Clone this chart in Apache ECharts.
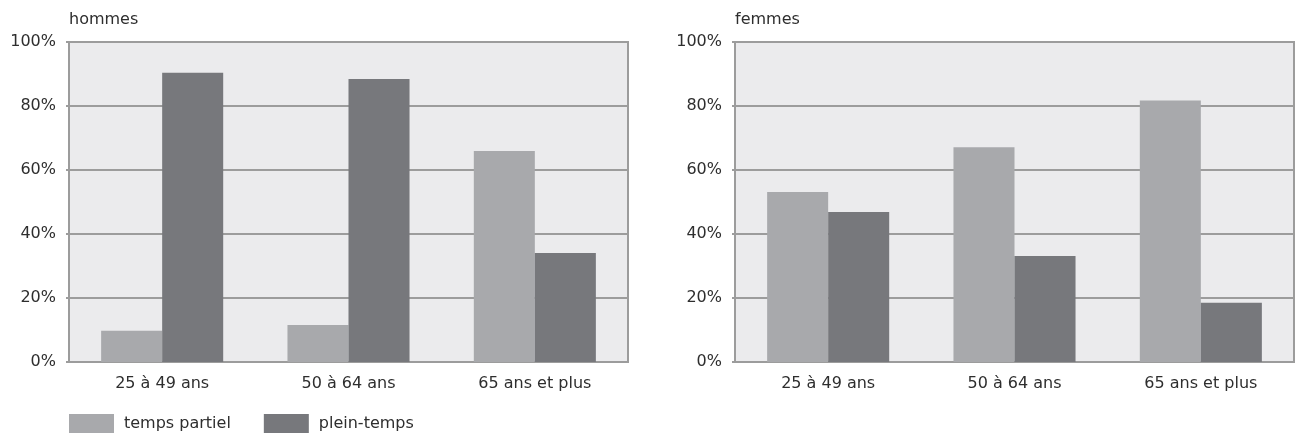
<!DOCTYPE html>
<html>
<head>
<meta charset="utf-8">
<script src="https://cdn.jsdelivr.net/npm/echarts@6/dist/echarts.min.js"></script>
<style>
  html, body { margin: 0; padding: 0; background: #ffffff; }
  #chart { width: 1302px; height: 434px; }
</style>
</head>
<body>
<div id="chart"></div>
<script>
// Age groups shown on both panels
const categories = ['25 à 49 ans', '50 à 64 ans', '65 ans et plus'];
// Share of workers by working time (%), men
const hommesPartiel = [9.8, 11.6, 65.9];
const hommesPlein = [90.4, 88.4, 34.1];
// Share of workers by working time (%), women
const femmesPartiel = [53.1, 67.1, 81.7];
const femmesPlein = [46.9, 33.1, 18.5];
const yTicks = [0, 20, 40, 60, 80, 100];
const panelTitles = ['hommes', 'femmes'];
const seriesNames = ['temps partiel', 'plein-temps'];

const FONT = '"DejaVu Sans", sans-serif';
const TEXT = '#2e2e2e';
const LIGHT = '#a8a9ac';
const DARK = '#77787c';
const AXIS = '#9c9c9c';

const chart = echarts.init(document.getElementById('chart'), null, { renderer: 'canvas' });

const grids = [
  { left: 69, top: 42, width: 559, height: 320 },
  { left: 735, top: 42, width: 559, height: 320 }
].map(g => Object.assign(g, {
  show: true,
  backgroundColor: '#ebebed',
  borderColor: AXIS,
  borderWidth: 2,
  containLabel: false
}));

const xAxes = [0, 1].map(i => ({
  type: 'category',
  gridIndex: i,
  data: categories,
  axisLine: { show: true, lineStyle: { color: AXIS, width: 2 } },
  axisTick: { show: false },
  axisLabel: { color: TEXT, fontFamily: FONT, fontSize: 16, margin: 14 }
}));

const yAxes = [0, 1].map(i => ({
  type: 'value',
  gridIndex: i,
  min: yTicks[0],
  max: yTicks[yTicks.length - 1],
  interval: yTicks[1] - yTicks[0],
  axisLine: { show: true, lineStyle: { color: AXIS, width: 2 } },
  axisTick: { show: true, length: 3, lineStyle: { color: AXIS, width: 2 } },
  axisLabel: { color: TEXT, fontFamily: FONT, fontSize: 16, margin: 13, formatter: '{value}%' },
  splitLine: { show: true, lineStyle: { color: AXIS, width: 2 } }
}));

function bars(name, data, idx, color) {
  return {
    name: name,
    type: 'bar',
    xAxisIndex: idx,
    yAxisIndex: idx,
    data: data,
    barGap: '0%',
    barCategoryGap: '34.5%',
    itemStyle: { color: color },
    silent: true,
    animation: false
  };
}

chart.setOption({
  animation: false,
  backgroundColor: '#ffffff',
  textStyle: { fontFamily: FONT },
  title: panelTitles.map((t, i) => ({
    text: t,
    left: i === 0 ? 69 : 735,
    top: 12,
    padding: 0,
    textStyle: { color: TEXT, fontFamily: FONT, fontSize: 16, fontWeight: 'normal' }
  })),
  legend: {
    left: 69,
    top: 414,
    padding: 0,
    itemWidth: 45,
    itemHeight: 19,
    itemGap: 33,
    icon: 'rect',
    textStyle: { color: TEXT, fontFamily: FONT, fontSize: 16, padding: [0, 0, 0, 5] },
    data: seriesNames
  },
  grid: grids,
  xAxis: xAxes,
  yAxis: yAxes,
  series: [
    bars(seriesNames[0], hommesPartiel, 0, LIGHT),
    bars(seriesNames[1], hommesPlein, 0, DARK),
    bars(seriesNames[0], femmesPartiel, 1, LIGHT),
    bars(seriesNames[1], femmesPlein, 1, DARK)
  ]
});
</script>
</body>
</html>
